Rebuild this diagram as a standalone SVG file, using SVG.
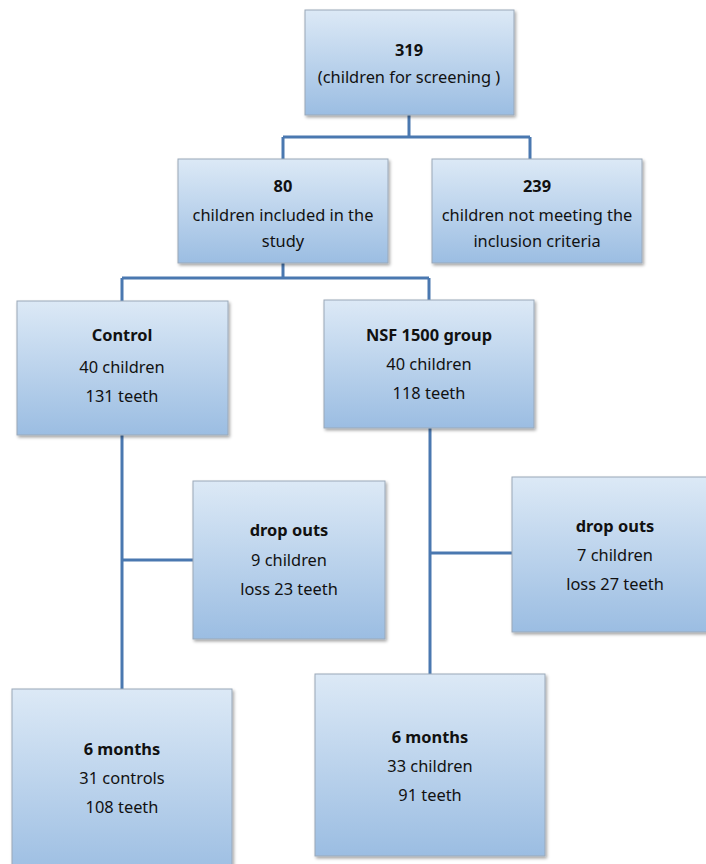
<svg xmlns="http://www.w3.org/2000/svg" width="706" height="864" viewBox="0 0 706 864">
<defs>
<linearGradient id="g" x1="0" y1="0" x2="0" y2="1">
<stop offset="0" stop-color="#dce9f6"/>
<stop offset="1" stop-color="#9bbde2"/>
</linearGradient>
<filter id="sh" x="-10%" y="-10%" width="120%" height="120%">
<feDropShadow dx="1.5" dy="2" stdDeviation="1.5" flood-color="#000" flood-opacity="0.35"/>
</filter>
</defs>
<style>
.box{fill:url(#g);stroke:#9aa8b8;stroke-width:1;filter:url(#sh)}
text{font-family:"Noto Sans","Open Sans",sans-serif;font-size:16.4px;fill:#111;text-anchor:middle}
.b{font-weight:bold}
.c{fill:none;stroke:#4a78b0;stroke-width:3}
</style>
<rect width="706" height="864" fill="#fff"/>
<g id="connectors">
<path class="c" d="M409 115V137M283 137H530M283 137V159M530 137V159"/>
<path class="c" d="M283 263V278M122 278H429M122 278V301M429 278V300"/>
<path class="c" d="M122 435V689M122 560H193"/>
<path class="c" d="M430 428V674M430 553H512"/>
</g>
<g id="n319"><rect class="box" x="305" y="10" width="209" height="105"/>
<text class="b" x="409" y="56">319</text><text x="409" y="83">(children for screening )</text></g>
<g id="n80"><rect class="box" x="178" y="159" width="210" height="104"/>
<text class="b" x="283" y="192">80</text><text x="283" y="221">children included in the</text><text x="283" y="247">study</text></g>
<g id="n239"><rect class="box" x="432" y="159" width="210" height="104"/>
<text class="b" x="537" y="192">239</text><text x="537" y="221">children not meeting the</text><text x="537" y="247">inclusion criteria</text></g>
<g id="control"><rect class="box" x="17" y="301" width="211" height="134"/>
<text class="b" x="122" y="341">Control</text><text x="122" y="373">40 children</text><text x="122" y="402">131 teeth</text></g>
<g id="nsf"><rect class="box" x="324" y="300" width="210" height="128"/>
<text class="b" x="429" y="341">NSF 1500 group</text><text x="429" y="370">40 children</text><text x="429" y="399">118 teeth</text></g>
<g id="drop1"><rect class="box" x="193" y="481" width="192" height="158"/>
<text class="b" x="289" y="536">drop outs</text><text x="289" y="566">9 children</text><text x="289" y="595">loss 23 teeth</text></g>
<g id="drop2"><rect class="box" x="512" y="477" width="200" height="155"/>
<text class="b" x="615" y="532">drop outs</text><text x="615" y="561">7 children</text><text x="615" y="590">loss 27 teeth</text></g>
<g id="m1"><rect class="box" x="12" y="689" width="220" height="190"/>
<text class="b" x="122" y="755">6 months</text><text x="122" y="784">31 controls</text><text x="122" y="813">108 teeth</text></g>
<g id="m2"><rect class="box" x="315" y="674" width="230" height="182"/>
<text class="b" x="430" y="743">6 months</text><text x="430" y="772">33 children</text><text x="430" y="801">91 teeth</text></g>
</svg>
